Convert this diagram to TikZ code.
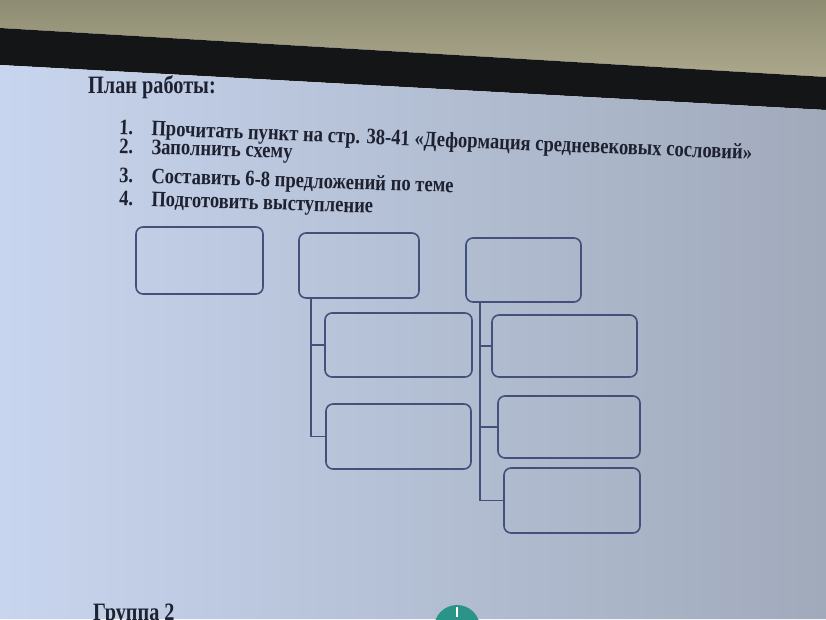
\documentclass[tikz,border=0pt]{standalone}
\usepackage{fontspec}
\setmainfont{Liberation Serif}
\usetikzlibrary{positioning}

\definecolor{wall}{HTML}{ABA88C}
\definecolor{walldark}{HTML}{8E8C72}
\definecolor{bezel}{HTML}{141516}
\definecolor{slideL}{HTML}{C8D5EE}
\definecolor{slideR}{HTML}{A0AABB}
\definecolor{ink}{HTML}{1D2130}
\definecolor{frame}{HTML}{43517A}
\definecolor{btn}{HTML}{2A9488}

\newcommand{\squeeze}[2]{\scalebox{#1}[1]{#2}}

\tikzset{
  cell/.style n args={2}{draw=frame, line width=1.6pt, rounded corners=7pt,
    inner sep=0pt, minimum width=#1, minimum height=#2},
  link/.style={draw=frame, line width=1.6pt},
  txt/.style={anchor=base west, text=ink, inner sep=0pt,
    font=\bfseries\fontsize{22}{24}\selectfont},
  head/.style={anchor=base west, text=ink, inner sep=0pt,
    font=\bfseries\fontsize{25}{28}\selectfont}
}

\begin{document}
\begin{tikzpicture}[x=1pt, y=-1pt]
		\useasboundingbox (0,0) rectangle (826,619);
		\clip (0,0) rectangle (826,619);
		%%%%%%%%%%%%% background
		\shade[top color=walldark, bottom color=wall] (0,0) -- (826,0) -- (826,77) -- (0,28) -- cycle;
		\fill[bezel] (0,28) -- (826,77) -- (826,110) -- (0,65) -- cycle;
		\shade[left color=slideL, right color=slideR] (0,65) -- (826,110) -- (826,619) -- (0,619) -- cycle;
		%%%%%%%%%%%%% text
		\node[head] (plan) at (88,93) {\squeeze{0.81}{План работы:}};
		\node[txt, rotate=-2.3] (item1) at (119,134) {\squeeze{0.845}{\makebox[38pt][l]{1.}Прочитать пункт на стр. 38-41 «Деформация средневековых сословий»}};
		\node[txt, rotate=-1.8] (item2) at (119,153) {\squeeze{0.845}{\makebox[38pt][l]{2.}Заполнить схему}};
		\node[txt, rotate=-1.8] (item3) at (119,182) {\squeeze{0.845}{\makebox[38pt][l]{3.}Составить 6-8 предложений по теме}};
		\node[txt, rotate=-1.8] (item4) at (119,205) {\squeeze{0.845}{\makebox[38pt][l]{4.}Подготовить выступление}};
		\node[head] (group) at (93,620) {\squeeze{0.81}{Группа 2}};
		%%%%%%%%%%%%% boxes
		\node[cell={127pt}{67pt}] (a) at (199.5,260.5) {};
		\node[cell={120pt}{65pt}] (b) at (359,265.5) {};
		\node[cell={115pt}{64pt}] (c) at (523.5,270) {};
		\node[cell={147pt}{64pt}] (b1) at (398.5,345) {};
		\node[cell={145pt}{65pt}] (b2) at (398.5,436.5) {};
		\node[cell={145pt}{62pt}] (c1) at (564.5,346) {};
		\node[cell={142pt}{62pt}] (c2) at (569,427) {};
		\node[cell={136pt}{65pt}] (c3) at (572,500.5) {};
		%%%%%%%%%%%%% connectors
		\draw[link] ([xshift=13pt]b.south west) |- (b1.west);
		\draw[link] ([xshift=13pt]b.south west) |- (b2.west);
		\draw[link] ([xshift=15pt]c.south west) |- (c1.west);
		\draw[link] ([xshift=15pt]c.south west) |- (c2.west);
		\draw[link] ([xshift=15pt]c.south west) |- (c3.west);
		%%%%%%%%%%%%% button
		\fill[btn] (457,628) circle (23);
		\draw[white, line width=1.5pt] (457,607) -- (457,617);
\end{tikzpicture}
\end{document}
